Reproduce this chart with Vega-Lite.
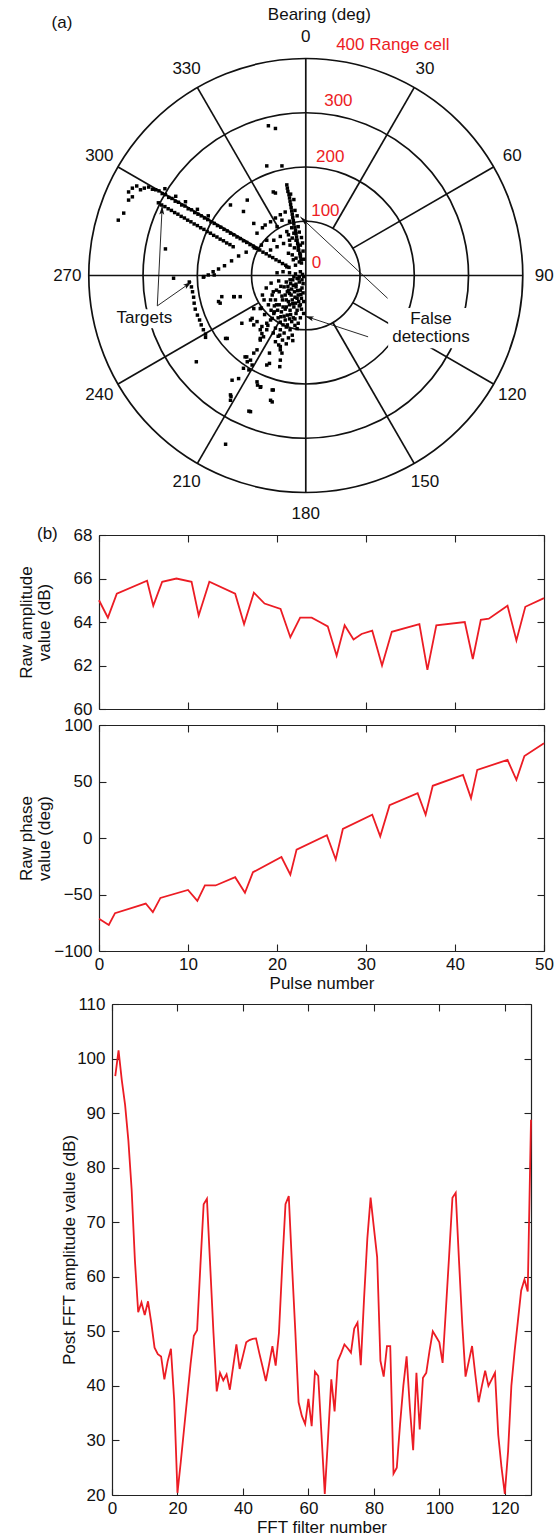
{
"$schema":"https://vega.github.io/schema/vega-lite/v6.json",
"padding":{"left":16,"top":0,"right":0,"bottom":0},
"background":"white",
"bounds":"flush",
"center":true,
"spacing":16,
"config":{
 "view":{"stroke":null},
 "font":"Liberation Sans",
 "text":{"font":"Liberation Sans","fontSize":17},
 "axis":{"labelFont":"Liberation Sans","labelFontSize":17,"labelColor":"#111","titleFont":"Liberation Sans","titleFontSize":17,"titleColor":"#111","titleFontWeight":"normal","domainColor":"#222","domainWidth":1.2,"tickColor":"#222","tickWidth":1.1,"tickSize":-7,"labelPadding":14,"grid":false,"labelFlush":false,"labelOverlap":false,"titlePadding":3,"titleLineHeight":18}
},
"datasets":{
 "rings":[{"r":100},{"r":200},{"r":300},{"r":400}],
 "spokes":[
  {"x":0,"y":400,"x2":0,"y2":-400},{"x":-400,"y":0,"x2":400,"y2":0},
  {"x":50,"y":86.6,"x2":200,"y2":346.4},{"x":86.6,"y":50,"x2":346.4,"y2":200},
  {"x":86.6,"y":-50,"x2":346.4,"y2":-200},{"x":50,"y":-86.6,"x2":200,"y2":-346.4},
  {"x":-50,"y":-86.6,"x2":-200,"y2":-346.4},{"x":-86.6,"y":-50,"x2":-346.4,"y2":-200},
  {"x":-86.6,"y":50,"x2":-346.4,"y2":200},{"x":-50,"y":86.6,"x2":-200,"y2":346.4}],
 "boxes":[{"x":-357,"x2":-239,"y":-62,"y2":-97},{"x":152,"x2":311,"y":-60,"y2":-134}],
 "dots":[
  {"x":-327,"y":154},{"x":-320,"y":161},{"x":-312,"y":165},{"x":-305,"y":158},{"x":-298,"y":161},{"x":-290,"y":163},{"x":-283,"y":159},{"x":-346,"y":102},{"x":-336,"y":115},{"x":-327,"y":139},{"x":-320,"y":145},{"x":-259,"y":49},
  {"x":-277,"y":158},{"x":-271,"y":156},{"x":-265,"y":151},{"x":-259,"y":149},{"x":-253,"y":144},{"x":-247,"y":142},{"x":-241,"y":137},{"x":-235,"y":135},{"x":-229,"y":130},{"x":-223,"y":128},{"x":-217,"y":123},{"x":-211,"y":121},{"x":-205,"y":116},{"x":-199,"y":113},{"x":-193,"y":110},{"x":-187,"y":106},{"x":-181,"y":103},{"x":-175,"y":99},{"x":-169,"y":96},{"x":-163,"y":92},{"x":-157,"y":89},{"x":-151,"y":85},{"x":-145,"y":82},{"x":-139,"y":78},{"x":-133,"y":75},{"x":-127,"y":71},{"x":-121,"y":68},{"x":-115,"y":64},{"x":-109,"y":61},{"x":-103,"y":57},{"x":-97,"y":54},{"x":-91,"y":50},{"x":-85,"y":47},{"x":-79,"y":43},{"x":-73,"y":40},{"x":-67,"y":36},{"x":-61,"y":33},{"x":-55,"y":29},{"x":-49,"y":26},{"x":-43,"y":22},{"x":-37,"y":19},{"x":-31,"y":15},
  {"x":-260,"y":160},{"x":-240,"y":146},{"x":-222,"y":136},{"x":-200,"y":122},{"x":-180,"y":110},
  {"x":-272,"y":134},{"x":-266,"y":130},{"x":-260,"y":127},{"x":-254,"y":123},{"x":-248,"y":120},{"x":-242,"y":116},{"x":-236,"y":113},{"x":-230,"y":109},{"x":-224,"y":106},{"x":-218,"y":102},{"x":-212,"y":99},{"x":-206,"y":95},{"x":-200,"y":92},{"x":-194,"y":88},{"x":-188,"y":85},{"x":-182,"y":81},{"x":-176,"y":78},{"x":-170,"y":74},{"x":-164,"y":71},{"x":-158,"y":67},{"x":-152,"y":64},{"x":-146,"y":60},{"x":-140,"y":57},{"x":-134,"y":53},
  {"x":-189,"y":-3},{"x":-180,"y":1},{"x":-171,"y":7},{"x":-161,"y":12},{"x":-150,"y":18},{"x":-137,"y":27},{"x":-124,"y":36},{"x":-110,"y":43},{"x":-95,"y":51},{"x":-82,"y":56},
  {"x":-80,"y":88},{"x":-75,"y":93},{"x":-65,"y":99},{"x":-56,"y":106},{"x":-47,"y":112},{"x":-38,"y":117},
  {"x":-35,"y":167},{"x":-34,"y":161},{"x":-33,"y":155},{"x":-31,"y":149},{"x":-30,"y":143},{"x":-29,"y":137},{"x":-28,"y":131},{"x":-27,"y":125},{"x":-26,"y":119},{"x":-25,"y":113},{"x":-24,"y":107},{"x":-23,"y":101},{"x":-22,"y":95},{"x":-20,"y":89},{"x":-19,"y":83},{"x":-18,"y":77},{"x":-17,"y":71},{"x":-16,"y":65},{"x":-15,"y":59},{"x":-14,"y":53},{"x":-13,"y":47},{"x":-11,"y":41},{"x":-10,"y":35},{"x":-9,"y":29},{"x":-8,"y":23},
  {"x":-28,"y":150},{"x":-22,"y":140},{"x":-20,"y":120},{"x":-16,"y":110},{"x":-30,"y":100},{"x":-14,"y":90},{"x":-12,"y":80},{"x":-26,"y":88},{"x":-8,"y":70},{"x":-6,"y":60},{"x":-22,"y":78},{"x":-5,"y":45},{"x":-4,"y":30},
  {"x":-32,"y":75},{"x":-25,"y":69},{"x":-18,"y":65},{"x":-29,"y":56},{"x":-21,"y":51},{"x":-14,"y":47},{"x":-10,"y":38},{"x":-25,"y":38},{"x":-18,"y":32},{"x":-12,"y":25},{"x":-19,"y":19},{"x":-30,"y":65},{"x":-10,"y":56},
  {"x":-53,"y":90},{"x":-44,"y":102},{"x":-35,"y":81},{"x":-41,"y":59},{"x":-32,"y":41},{"x":-47,"y":72},{"x":-23,"y":29},{"x":-35,"y":16},{"x":-53,"y":53},{"x":-59,"y":65},{"x":-65,"y":47},{"x":-72,"y":65},{"x":-60,"y":154},{"x":-56,"y":152},{"x":-139,"y":130},{"x":-108,"y":139},{"x":-115,"y":118},{"x":-96,"y":96},{"x":-90,"y":78},{"x":-72,"y":202},{"x":-44,"y":202},{"x":-69,"y":276},{"x":-56,"y":271},
  {"x":-16,"y":-5},{"x":-12,"y":-12},{"x":-18,"y":-21},{"x":-21,"y":-30},{"x":-14,"y":-36},{"x":-25,"y":-45},{"x":-30,"y":-54},{"x":-19,"y":-51},{"x":-29,"y":-64},{"x":-34,"y":-73},{"x":-38,"y":-82},{"x":-42,"y":-91},{"x":-47,"y":-100},{"x":-23,"y":-18},{"x":-32,"y":-27},{"x":-38,"y":-36},{"x":-43,"y":-45},{"x":-49,"y":-54},{"x":-10,"y":-27},{"x":-8,"y":-42},{"x":-54,"y":-27},{"x":-62,"y":-36},{"x":-65,"y":-45},{"x":-69,"y":-54},{"x":-58,"y":-67},{"x":-51,"y":-78},{"x":-45,"y":-67},{"x":-36,"y":-12},{"x":-29,"y":-8},{"x":-40,"y":-21},{"x":-49,"y":-30},{"x":-56,"y":-45},{"x":-53,"y":5},{"x":-42,"y":7},{"x":-30,"y":5},{"x":-19,"y":3},{"x":-10,"y":7},{"x":-64,"y":-14},{"x":-73,"y":-23},{"x":-80,"y":-36},{"x":-77,"y":-45},{"x":-10,"y":-54},{"x":-16,"y":-64},{"x":-23,"y":-78},{"x":-18,"y":-16},{"x":-7,"y":-8},{"x":-7,"y":-23},{"x":-27,"y":-36},{"x":-36,"y":-45},{"x":-42,"y":-58},{"x":-54,"y":-54},{"x":-64,"y":-64},{"x":-34,"y":-91},{"x":-29,"y":-100},{"x":-40,"y":-106},{"x":-51,"y":-112},{"x":-43,"y":-119},{"x":-32,"y":-115},{"x":-25,"y":-110},{"x":-47,"y":-86},{"x":-56,"y":-97},{"x":-65,"y":-82},
  {"x":-5,"y":-15},{"x":-9,"y":-35},{"x":-13,"y":-48},{"x":-20,"y":-40},{"x":-26,"y":-25},{"x":-15,"y":-28},{"x":-22,"y":-58},{"x":-30,"y":-33},{"x":-5,"y":-32},{"x":-12,"y":-56},{"x":-18,"y":-70},{"x":-26,"y":-85},{"x":-38,"y":-62},{"x":-44,"y":-38},{"x":-33,"y":-20},{"x":-24,"y":-8},{"x":-14,"y":-6},{"x":-4,"y":-2},{"x":-4,"y":-48},{"x":-20,"y":-92},{"x":-30,"y":-80},{"x":-40,"y":-75},{"x":-48,"y":-110},
  {"x":-6,"y":2},{"x":-12,"y":-2},{"x":-22,"y":-2},{"x":-28,"y":-15},{"x":-34,"y":-30},{"x":-16,"y":-42},{"x":-24,"y":-52},{"x":-32,"y":-48},{"x":-36,"y":-58},{"x":-28,"y":-72},{"x":-20,"y":-80},{"x":-14,"y":-88},{"x":-36,"y":-95},{"x":-46,"y":-76},{"x":-52,"y":-64},{"x":-58,"y":-56},{"x":-60,"y":-30},{"x":-46,"y":-20},{"x":-50,"y":-10},{"x":-8,"y":-62},{"x":-4,"y":-70},{"x":-10,"y":-78},{"x":-16,"y":-98},{"x":-24,"y":-120},{"x":-36,"y":-126},{"x":-56,"y":-122},{"x":-60,"y":-106},{"x":-70,"y":-92},{"x":-76,"y":-72},{"x":-82,"y":-60},
  {"x":-118,"y":-88},{"x":-99,"y":-79},{"x":-90,"y":-85},{"x":-81,"y":-94},{"x":-72,"y":-100},{"x":-78,"y":-113},{"x":-84,"y":-119},{"x":-90,"y":-137},{"x":-96,"y":-143},{"x":-112,"y":-150},{"x":-108,"y":-159},{"x":-105,"y":-174},{"x":-115,"y":-171},{"x":-124,"y":-190},{"x":-136,"y":-193},{"x":-99,"y":-165},{"x":-90,"y":-196},{"x":-84,"y":-206},{"x":-62,"y":-211},{"x":-65,"y":-230},{"x":-62,"y":-233},{"x":-139,"y":-220},{"x":-139,"y":-230},{"x":-105,"y":-250},{"x":-148,"y":-116},{"x":-202,"y":-159},{"x":-148,"y":-311},{"x":-185,"y":-114},{"x":-50,"y":-128},{"x":-47,"y":-137},{"x":-44,"y":-143},{"x":-47,"y":-156},{"x":-48,"y":-168},{"x":-67,"y":-143},{"x":-67,"y":-162},{"x":-72,"y":-165},{"x":-96,"y":-91},{"x":-72,"y":-88},{"x":-62,"y":-79},{"x":-81,"y":-107},
  {"x":-161,"y":-48},{"x":-133,"y":-39},{"x":-121,"y":-39},{"x":-96,"y":-61},{"x":-84,"y":-61},{"x":-59,"y":-70},{"x":-102,"y":-82},{"x":-84,"y":-100},{"x":-47,"y":-131},{"x":-145,"y":-116},{"x":-84,"y":-116},
  {"x":-155,"y":-39},{"x":-109,"y":-150},{"x":-102,"y":-156},{"x":-89,"y":-202},{"x":-83,"y":-205},{"x":-60,"y":-211},{"x":-138,"y":-223},{"x":-102,"y":-251},{"x":-132,"y":-39},{"x":-158,"y":-51},{"x":-244,"y":-5},{"x":-188,"y":-2},{"x":-169,"y":1},
  {"x":-215,"y":-12},{"x":-211,"y":-21},{"x":-209,"y":-30},{"x":-207,"y":-40},{"x":-206,"y":-51},{"x":-204,"y":-62},{"x":-200,"y":-73},{"x":-196,"y":-82},{"x":-193,"y":-91},{"x":-189,"y":-100},{"x":-185,"y":-108}],
 "arrows":[{"id":"A","x":-274,"y":-56,"x2":-265,"y2":128},{"id":"B","x":-274,"y":-56,"x2":-211,"y2":-12},{"id":"C","x":151,"y":-42,"x2":-10,"y2":108},{"id":"D","x":115,"y":-113,"x2":-1,"y2":-75}],
 "bearings":[{"t":"0","x":0,"y":440},{"t":"30","x":220,"y":381},{"t":"60","x":381,"y":220},{"t":"90","x":440,"y":0},{"t":"120","x":381,"y":-220},{"t":"150","x":220,"y":-381},{"t":"180","x":0,"y":-440},{"t":"210","x":-220,"y":-381},{"t":"240","x":-381,"y":-220},{"t":"270","x":-440,"y":0},{"t":"300","x":-381,"y":220},{"t":"330","x":-220,"y":381}],
 "ranges":[{"t":"0","x":11,"y":23},{"t":"100","x":10,"y":118},{"t":"200","x":19,"y":219},{"t":"300","x":34,"y":322},{"t":"400 Range cell","x":56,"y":425}],
 "notes":[{"t":"Bearing (deg)","x":25,"y":480},{"t":"(a)","x":-450,"y":465},{"t":"Targets","x":-298,"y":-78},{"t":"False","x":231,"y":-80},{"t":"detections","x":231,"y":-113}],
 "amp":[{"pulse":0,"dB":65.0},{"pulse":1.0,"dB":64.2},{"pulse":2.0,"dB":65.3},{"pulse":5.4,"dB":65.9},{"pulse":6.1,"dB":64.75},{"pulse":7.1,"dB":65.85},{"pulse":8.7,"dB":66.0},{"pulse":10.4,"dB":65.85},{"pulse":11.2,"dB":64.3},{"pulse":12.4,"dB":65.85},{"pulse":15.3,"dB":65.3},{"pulse":16.3,"dB":63.9},{"pulse":17.4,"dB":65.35},{"pulse":18.6,"dB":64.85},{"pulse":20.4,"dB":64.6},{"pulse":21.5,"dB":63.3},{"pulse":22.6,"dB":64.2},{"pulse":23.9,"dB":64.2},{"pulse":24.8,"dB":64.0},{"pulse":25.7,"dB":63.8},{"pulse":26.7,"dB":62.45},{"pulse":27.6,"dB":63.85},{"pulse":28.6,"dB":63.2},{"pulse":29.5,"dB":63.45},{"pulse":30.7,"dB":63.6},{"pulse":31.8,"dB":62.0},{"pulse":32.9,"dB":63.55},{"pulse":36.0,"dB":63.9},{"pulse":36.9,"dB":61.8},{"pulse":37.9,"dB":63.85},{"pulse":41.1,"dB":64.0},{"pulse":42.0,"dB":62.3},{"pulse":42.9,"dB":64.1},{"pulse":43.8,"dB":64.15},{"pulse":45.9,"dB":64.75},{"pulse":46.9,"dB":63.15},{"pulse":47.9,"dB":64.7},{"pulse":50.0,"dB":65.1}],
 "phase":[{"pulse":0,"deg":-71.5},{"pulse":1.1,"deg":-77},{"pulse":1.8,"deg":-66.5},{"pulse":5.25,"deg":-58},{"pulse":6.05,"deg":-65.6},{"pulse":6.9,"deg":-53},{"pulse":10.0,"deg":-46},{"pulse":11.05,"deg":-55.6},{"pulse":11.9,"deg":-42},{"pulse":13.1,"deg":-42},{"pulse":15.3,"deg":-34.7},{"pulse":16.4,"deg":-48.5},{"pulse":17.3,"deg":-30.3},{"pulse":20.5,"deg":-16.8},{"pulse":21.5,"deg":-32.4},{"pulse":22.2,"deg":-10.3},{"pulse":25.6,"deg":2.4},{"pulse":26.6,"deg":-19},{"pulse":27.4,"deg":8},{"pulse":30.7,"deg":20.6},{"pulse":31.6,"deg":1.5},{"pulse":32.65,"deg":29},{"pulse":35.8,"deg":39.7},{"pulse":36.7,"deg":20.6},{"pulse":37.5,"deg":46.2},{"pulse":40.9,"deg":55.9},{"pulse":41.8,"deg":35.3},{"pulse":42.5,"deg":60.3},{"pulse":45.9,"deg":69.1},{"pulse":46.9,"deg":51.5},{"pulse":47.8,"deg":72.6},{"pulse":50,"deg":83.8}],
 "fft":[{"f":1,"dB":96.8},{"f":2,"dB":101.5},{"f":3,"dB":96},{"f":4,"dB":91.5},{"f":5,"dB":85},{"f":6,"dB":76},{"f":7,"dB":63},{"f":8,"dB":53.5},{"f":9,"dB":55.3},{"f":10,"dB":53},{"f":11,"dB":55.5},{"f":12,"dB":51.6},{"f":13,"dB":47},{"f":14,"dB":45.8},{"f":15,"dB":45.4},{"f":16,"dB":41.2},{"f":17,"dB":44.5},{"f":18,"dB":46.8},{"f":19,"dB":37.4},{"f":20,"dB":20.4},{"f":21,"dB":26},{"f":22,"dB":32},{"f":23,"dB":38},{"f":24,"dB":44},{"f":25,"dB":49.2},{"f":26,"dB":50.2},{"f":27,"dB":62},{"f":28,"dB":73.3},{"f":29,"dB":74.3},{"f":30,"dB":62},{"f":31,"dB":49.7},{"f":32,"dB":39},{"f":33,"dB":42.4},{"f":34,"dB":41},{"f":35,"dB":42.1},{"f":36,"dB":39.3},{"f":37,"dB":43.5},{"f":38,"dB":47.6},{"f":39,"dB":43.1},{"f":40,"dB":45.5},{"f":41,"dB":48},{"f":42,"dB":48.4},{"f":43,"dB":48.6},{"f":44,"dB":48.7},{"f":45,"dB":46},{"f":46,"dB":43.5},{"f":47,"dB":40.9},{"f":48,"dB":44},{"f":49,"dB":47.3},{"f":50,"dB":43.7},{"f":51,"dB":49.7},{"f":52,"dB":62},{"f":53,"dB":73.3},{"f":54,"dB":74.8},{"f":55,"dB":62},{"f":56,"dB":50},{"f":57,"dB":37},{"f":58,"dB":34.5},{"f":59,"dB":33},{"f":60,"dB":37.6},{"f":61,"dB":32.6},{"f":62,"dB":42.6},{"f":63,"dB":41.8},{"f":64,"dB":31},{"f":65,"dB":20.2},{"f":66,"dB":30.5},{"f":67,"dB":41.2},{"f":68,"dB":35.3},{"f":69,"dB":44.6},{"f":70,"dB":46},{"f":71,"dB":47.6},{"f":72,"dB":46.9},{"f":73,"dB":46.1},{"f":74,"dB":50.5},{"f":75,"dB":51.6},{"f":76,"dB":43.8},{"f":77,"dB":56},{"f":78,"dB":67},{"f":79,"dB":74.5},{"f":80,"dB":69},{"f":81,"dB":63.6},{"f":82,"dB":44.6},{"f":83,"dB":41.7},{"f":84,"dB":47.3},{"f":85,"dB":47.3},{"f":86,"dB":23.9},{"f":87,"dB":25},{"f":88,"dB":33},{"f":89,"dB":40},{"f":90,"dB":45.4},{"f":91,"dB":36},{"f":92,"dB":28.2},{"f":93,"dB":42.4},{"f":94,"dB":32},{"f":95,"dB":41.5},{"f":96,"dB":42.4},{"f":97,"dB":46.4},{"f":98,"dB":50},{"f":99,"dB":49},{"f":100,"dB":48},{"f":101,"dB":44.2},{"f":102,"dB":54},{"f":103,"dB":64},{"f":104,"dB":74.5},{"f":105,"dB":75.4},{"f":106,"dB":63},{"f":107,"dB":51.3},{"f":108,"dB":41.7},{"f":109,"dB":44.5},{"f":110,"dB":47.3},{"f":111,"dB":42},{"f":112,"dB":37},{"f":113,"dB":40},{"f":114,"dB":42.8},{"f":115,"dB":40},{"f":116,"dB":41.2},{"f":117,"dB":42.4},{"f":118,"dB":31},{"f":119,"dB":25},{"f":120,"dB":20.2},{"f":121,"dB":28},{"f":122,"dB":40},{"f":123,"dB":46.4},{"f":124,"dB":51.9},{"f":125,"dB":57.5},{"f":126,"dB":59.5},{"f":127,"dB":57.3},{"f":128,"dB":88.8}]
},
"vconcat":[
 {"width":445,"height":519,
  "layer":[
   {"data":{"name":"rings"},"mark":{"type":"arc","filled":false,"stroke":"#111","strokeWidth":1.7,"theta":0,"theta2":6.2832},
    "encoding":{"x":{"datum":0,"type":"quantitative","scale":{"domain":[-381.6,439.6],"nice":false,"zero":false},"axis":null},
                "y":{"datum":0,"type":"quantitative","scale":{"domain":[-448.8,507.8],"nice":false,"zero":false},"axis":null},
                "radius":{"field":"r","type":"quantitative","stack":null,"scale":{"type":"linear","domain":[0,400],"range":[0,217],"zero":true,"nice":false}}}},
   {"data":{"name":"spokes"},"mark":{"type":"rule","color":"#111","strokeWidth":1.7},
    "encoding":{"x":{"field":"x","type":"quantitative","axis":null},"y":{"field":"y","type":"quantitative","axis":null},"x2":{"field":"x2"},"y2":{"field":"y2"}}},
   {"data":{"name":"boxes"},"mark":{"type":"rect","color":"white"},
    "encoding":{"x":{"field":"x","type":"quantitative","axis":null},"y":{"field":"y","type":"quantitative","axis":null},"x2":{"field":"x2"},"y2":{"field":"y2"}}},
   {"data":{"name":"dots"},"mark":{"type":"point","shape":"square","filled":true,"size":12,"color":"#000","opacity":1},
    "encoding":{"x":{"field":"x","type":"quantitative","axis":null},"y":{"field":"y","type":"quantitative","axis":null}}},
   {"data":{"name":"arrows"},"mark":{"type":"rule","color":"#111","strokeWidth":0.9},
    "encoding":{"x":{"field":"x","type":"quantitative","axis":null},"y":{"field":"y","type":"quantitative","axis":null},"x2":{"field":"x2"},"y2":{"field":"y2"}}},
   {"data":{"name":"arrows"},"transform":[{"filter":"datum.id == 'A'"}],"mark":{"type":"point","shape":"M0,0L-0.7,2.4L0,1.9L0.7,2.4Z","filled":true,"color":"#111","opacity":1,"size":50,"angle":3},
    "encoding":{"x":{"field":"x2","type":"quantitative","axis":null},"y":{"field":"y2","type":"quantitative","axis":null}}},
   {"data":{"name":"arrows"},"transform":[{"filter":"datum.id == 'B'"}],"mark":{"type":"point","shape":"M0,0L-0.7,2.4L0,1.9L0.7,2.4Z","filled":true,"color":"#111","opacity":1,"size":50,"angle":55},
    "encoding":{"x":{"field":"x2","type":"quantitative","axis":null},"y":{"field":"y2","type":"quantitative","axis":null}}},
   {"data":{"name":"arrows"},"transform":[{"filter":"datum.id == 'C'"}],"mark":{"type":"point","shape":"M0,0L-0.7,2.4L0,1.9L0.7,2.4Z","filled":true,"color":"#111","opacity":1,"size":50,"angle":313},
    "encoding":{"x":{"field":"x2","type":"quantitative","axis":null},"y":{"field":"y2","type":"quantitative","axis":null}}},
   {"data":{"name":"arrows"},"transform":[{"filter":"datum.id == 'D'"}],"mark":{"type":"point","shape":"M0,0L-0.7,2.4L0,1.9L0.7,2.4Z","filled":true,"color":"#111","opacity":1,"size":50,"angle":288},
    "encoding":{"x":{"field":"x2","type":"quantitative","axis":null},"y":{"field":"y2","type":"quantitative","axis":null}}},
   {"data":{"name":"bearings"},"mark":{"type":"text","align":"center","baseline":"middle","fontSize":17,"color":"#111"},
    "encoding":{"x":{"field":"x","type":"quantitative","axis":null},"y":{"field":"y","type":"quantitative","axis":null},"text":{"field":"t"}}},
   {"data":{"name":"ranges"},"mark":{"type":"text","align":"left","baseline":"middle","fontSize":17,"color":"#ec1c24"},
    "encoding":{"x":{"field":"x","type":"quantitative","axis":null},"y":{"field":"y","type":"quantitative","axis":null},"text":{"field":"t"}}},
   {"data":{"name":"notes"},"mark":{"type":"text","align":"center","baseline":"middle","fontSize":17,"color":"#111"},
    "encoding":{"x":{"field":"x","type":"quantitative","axis":null},"y":{"field":"y","type":"quantitative","axis":null},"text":{"field":"t"}}}
  ]},
 {"width":445,"height":174,
  "layer":[
   {"data":{"name":"amp"},"mark":{"type":"line","color":"#ec1c24","strokeWidth":1.8},
    "encoding":{"x":{"field":"pulse","type":"quantitative","scale":{"domain":[0,50],"nice":false,"zero":false},"axis":{"orient":"bottom","values":[0,10,20,30,40,50],"labels":false,"title":null}},
                "y":{"field":"dB","type":"quantitative","scale":{"domain":[60,68],"nice":false,"zero":false},"axis":{"orient":"left","values":[60,62,64,66,68],"title":["Raw amplitude","value (dB)"],"titleX":-64}}}},
   {"data":{"name":"amp"},"mark":{"type":"line","opacity":0},
    "encoding":{"x":{"field":"pulse","type":"quantitative","axis":{"orient":"top","values":[0,10,20,30,40,50],"labels":false,"title":null}},
                "y":{"field":"dB","type":"quantitative","axis":{"orient":"right","values":[60,62,64,66,68],"labels":false,"title":null}}}},
   {"data":{"values":[{"t":"(b)","pulse":-5.8,"dB":68.05}]},"mark":{"type":"text","align":"center","baseline":"middle","fontSize":17,"color":"#111"},
    "encoding":{"x":{"field":"pulse","type":"quantitative","axis":null},"y":{"field":"dB","type":"quantitative","axis":null},"text":{"field":"t"}}}
  ],
  "resolve":{"axis":{"x":"independent","y":"independent"}}},
 {"width":445,"height":226,
  "layer":[
   {"data":{"name":"phase"},"mark":{"type":"line","color":"#ec1c24","strokeWidth":1.8},
    "encoding":{"x":{"field":"pulse","type":"quantitative","scale":{"domain":[0,50],"nice":false,"zero":false},"axis":{"orient":"bottom","values":[0,10,20,30,40,50],"labelPadding":12,"title":"Pulse number"}},
                "y":{"field":"deg","type":"quantitative","scale":{"domain":[-100,100],"nice":false,"zero":false},"axis":{"orient":"left","values":[-100,-50,0,50,100],"title":["Raw phase","value (deg)"],"titleX":-64}}}},
   {"data":{"name":"phase"},"mark":{"type":"line","opacity":0},
    "encoding":{"x":{"field":"pulse","type":"quantitative","axis":{"orient":"top","values":[0,10,20,30,40,50],"labels":false,"title":null}},
                "y":{"field":"deg","type":"quantitative","axis":{"orient":"right","values":[-100,-50,0,50,100],"labels":false,"title":null}}}}
  ],
  "resolve":{"axis":{"x":"independent","y":"independent"}}},
 {"width":1,"height":21,"data":{"values":[]},"mark":"point"},
 {"width":419,"height":491,
  "layer":[
   {"data":{"name":"fft"},"mark":{"type":"line","color":"#ec1c24","strokeWidth":1.8},
    "encoding":{"x":{"field":"f","type":"quantitative","scale":{"domain":[0,128],"nice":false,"zero":false},"axis":{"orient":"bottom","values":[0,20,40,60,80,100,120],"labelPadding":12,"title":"FFT filter number"}},
                "y":{"field":"dB","type":"quantitative","scale":{"domain":[20,110],"nice":false,"zero":false},"axis":{"orient":"left","values":[20,30,40,50,60,70,80,90,100,110],"title":"Post FFT amplitude value (dB)","titleX":-34}}}},
   {"data":{"name":"fft"},"mark":{"type":"line","opacity":0},
    "encoding":{"x":{"field":"f","type":"quantitative","axis":{"orient":"top","values":[0,20,40,60,80,100,120],"labels":false,"title":null}},
                "y":{"field":"dB","type":"quantitative","axis":{"orient":"right","values":[20,30,40,50,60,70,80,90,100,110],"labels":false,"title":null}}}}
  ],
  "resolve":{"axis":{"x":"independent","y":"independent"}}}
]
}
